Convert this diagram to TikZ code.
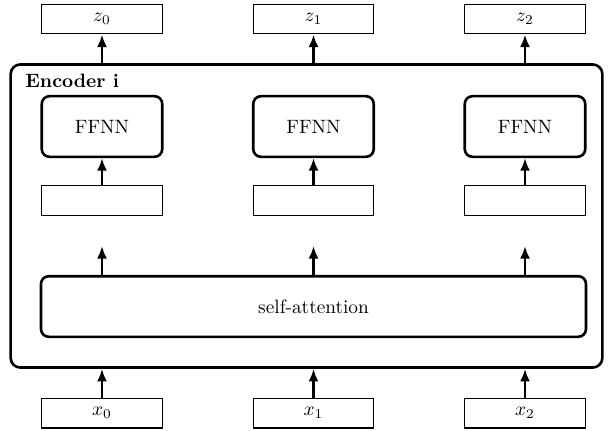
\documentclass[tikz,border=0pt]{standalone}
\usetikzlibrary{arrows.meta}
\begin{document}
\begin{tikzpicture}[x=0.518pt,y=-0.518pt,
  thinbox/.style={draw,line width=0.55pt,minimum width=62.4pt,minimum height=15.5pt,inner sep=0pt},
  ffbox/.style={draw,line width=1.35pt,rounded corners=4pt,minimum width=62.4pt,minimum height=31.4pt,inner sep=0pt},
  arr/.style={line width=1.35pt,-{Latex[length=6.5pt,width=5.2pt]}}]
\useasboundingbox (0,0) rectangle (610,430);
% encoder frame
\node[draw,line width=1.35pt,rounded corners=5pt,minimum width=306.5pt,minimum height=157pt,inner sep=0pt] (enc) at (306.5,216) {};
\node[anchor=base west,inner sep=0pt,font=\bfseries] (lab) at (25,87) {Encoder i};
% outputs
\node[thinbox] (z0) at (102,19) {$z_0$};
\node[thinbox] (z1) at (313.5,19) {$z_1$};
\node[thinbox] (z2) at (525,19) {$z_2$};
% FFNN
\node[ffbox] (f0) at (102,126.5) {FFNN};
\node[ffbox] (f1) at (313.5,126.5) {FFNN};
\node[ffbox] (f2) at (525,126.5) {FFNN};
% middle boxes
\node[thinbox] (m0) at (102,200.5) {};
\node[thinbox] (m1) at (313.5,200.5) {};
\node[thinbox] (m2) at (525,200.5) {};
% self-attention
\node[ffbox,minimum width=282.3pt] (sa) at (313.5,306.5) {self-attention};
% inputs
\node[thinbox] (x0) at (102,413) {$x_0$};
\node[thinbox] (x1) at (313.5,413) {$x_1$};
\node[thinbox] (x2) at (525,413) {$x_2$};
% arrow ends above self-attention
\coordinate (t0) at (102,246);
\coordinate (t1) at (313.5,246);
\coordinate (t2) at (525,246);
% arrows
\foreach \i in {0,1,2}{
  \draw[arr] (z\i.south |- enc.north) -- (z\i.south);
  \draw[arr] (m\i.north) -- (f\i.south);
  \draw[arr] (sa.north -| t\i) -- (t\i);
  \draw[arr] (x\i.north) -- (x\i.north |- enc.south);
}
\end{tikzpicture}
\end{document}
